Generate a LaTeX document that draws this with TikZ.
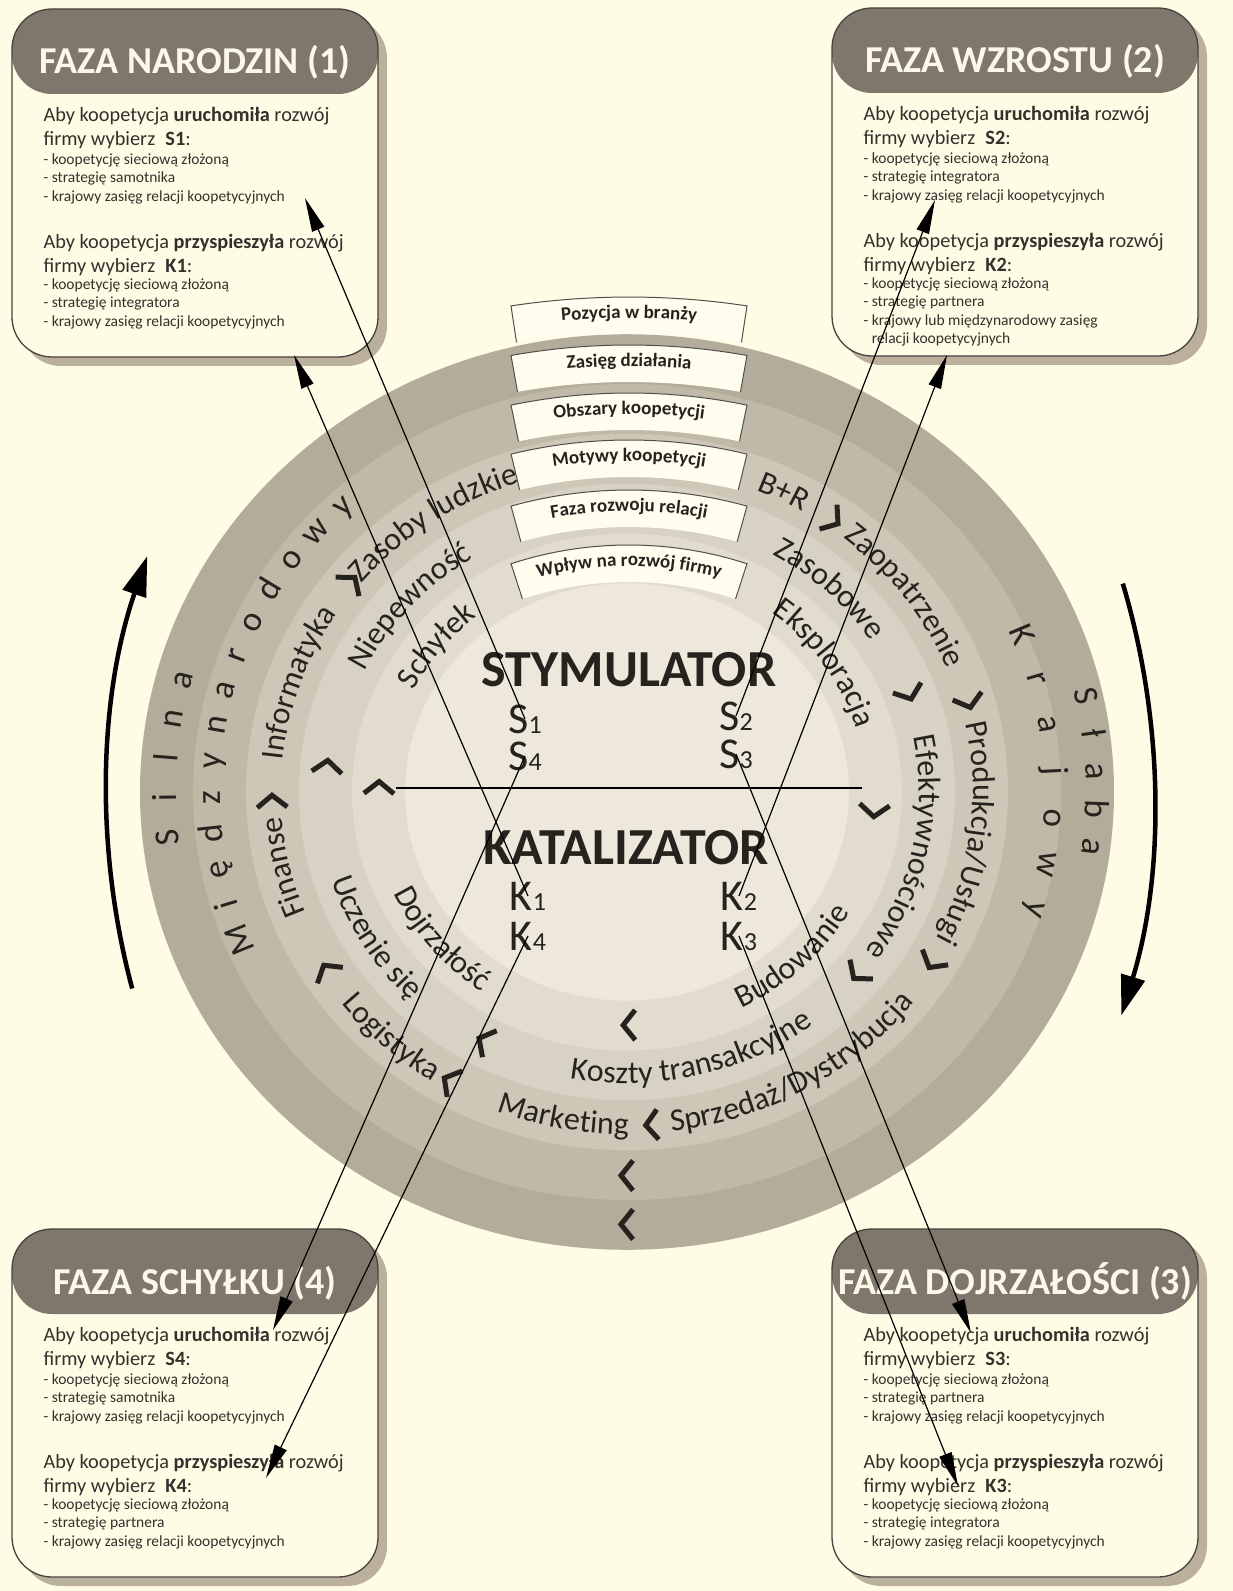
\documentclass[tikz,border=0pt]{standalone}
\usepackage{fontspec}
\setmainfont{Carlito}
\usepackage{xcolor}
\usetikzlibrary{calc}
\usetikzlibrary{arrows.meta}
\usetikzlibrary{positioning}
\usetikzlibrary{shadows}
\usetikzlibrary{decorations.text}

\definecolor{paper}{RGB}{255,252,229}
\definecolor{tabfill}{RGB}{255,253,238}
\definecolor{ringA}{RGB}{180,172,154}
\definecolor{ringB}{RGB}{193,185,168}
\definecolor{ringC}{RGB}{206,199,184}
\definecolor{ringD}{RGB}{216,210,196}
\definecolor{ringE}{RGB}{226,220,207}
\definecolor{ringF}{RGB}{237,232,219}
\definecolor{headbar}{RGB}{127,119,107}
\definecolor{boxshade}{RGB}{186,176,156}
\definecolor{titletext}{RGB}{252,248,232}
\definecolor{ink}{RGB}{38,34,30}
\definecolor{boxink}{RGB}{52,48,44}

\newcommand{\ringfont}{\fontsize{32}{32}\selectfont}
\newcommand{\tabfont}{\fontsize{19}{19}\selectfont\bfseries}
\newcommand{\skmark}[2]{{\fontsize{44}{44}\selectfont #1}{\fontsize{26}{26}\selectfont #2}}

\tikzset{
  phasebox/.style={draw=ink!85, line width=1.3pt, fill=paper, rounded corners=40pt,
    minimum width=366pt, minimum height=348pt, inner sep=0pt,
    drop shadow={shadow xshift=9pt, shadow yshift=-9pt, fill=boxshade, opacity=1},
    path picture={\fill[headbar] (path picture bounding box.north west) rectangle ([yshift=-85pt]path picture bounding box.north east);}},
  phasetitle/.style={anchor=base, text=titletext, font=\fontsize{38}{38}\selectfont\bfseries},
  leadtext/.style={anchor=north west, inner sep=0pt, align=left, text=boxink, font=\fontsize{20.3}{24}\selectfont},
  itemtext/.style={anchor=north west, inner sep=0pt, align=left, text=boxink, font=\fontsize{15.5}{18.5}\selectfont},
  tabline/.style={draw=ink!80, line width=1pt},
  chev/.style={draw=ink, line width=5pt, miter limit=20},
  link/.style={draw=black, line width=1.2pt, -{Triangle[length=34pt,width=13pt]}},
  sidearrow/.style={draw=black, line width=4.5pt, -{Triangle[length=40pt,width=24pt]}},
  spaced/.style={anchor=base, inner sep=0pt, text=ink, font=\fontsize{35}{35}\selectfont},
  biglabel/.style={text=ink, font=\fontsize{52}{52}\selectfont\bfseries},
  sklabel/.style={text=ink, inner sep=0pt}
}

\begin{document}
\begin{tikzpicture}[x=1pt,y=1pt]
		\newcommand{\cwlabel}[3]{%
			\pgfmathsetmacro{\lblRx}{#1-9}\pgfmathsetmacro{\lblRy}{0.94*(#1-9)}%
			\pgfmathsetmacro{\lblA}{#2+60}\pgfmathsetmacro{\lblB}{#2-60}%
			\path[decorate, decoration={text along path, text align=center, text color=ink, text={|\ringfont|#3}}]
				(\lblA:\lblRx pt and \lblRy pt) arc[start angle=\lblA, end angle=\lblB, x radius=\lblRx, y radius=\lblRy];}
		\newcommand{\ccwlabel}[3]{%
			\pgfmathsetmacro{\lblRx}{#1+9}\pgfmathsetmacro{\lblRy}{0.94*(#1+9)}%
			\pgfmathsetmacro{\lblA}{#2-60}\pgfmathsetmacro{\lblB}{#2+60}%
			\path[decorate, decoration={text along path, text align=center, text color=ink, text={|\ringfont|#3}}]
				(\lblA:\lblRx pt and \lblRy pt) arc[start angle=\lblA, end angle=\lblB, x radius=\lblRx, y radius=\lblRy];}
		\newcommand{\spacedword}[5]{%
			\pgfmathsetmacro{\spx}{#1-9}\pgfmathsetmacro{\spy}{0.94*(#1-9)}%
			\foreach \ch [count=\i from 0] in {#4} {
				\pgfmathsetmacro{\ang}{#2+#3*\i}
				\node[spaced, rotate=\ang-90, name=#5-\i] at (\ang:\spx pt and \spy pt) {\ch};
			}}
		\newcommand{\ringmark}[2]{%
			\pgfmathsetmacro{\mkx}{#2}\pgfmathsetmacro{\mky}{0.94*#2}%
			\draw[chev, shift={(#1:\mkx pt and \mky pt)}, rotate=#1-90] (-6,15) -- (6,0) -- (-6,-15);}
		\newcommand{\tabband}[3]{%
			\pgfmathsetmacro{\tabTop}{#2+21}\pgfmathsetmacro{\tabBot}{#2-16}%
			\pgfmathsetmacro{\tabL}{90+asin(118/\tabTop)}\pgfmathsetmacro{\tabR}{90-asin(118/\tabTop)}%
			\begin{scope}[shift={(2,#1-6-#2)}]
				\fill[tabfill] (\tabL:\tabTop) arc[start angle=\tabL, end angle=\tabR, radius=\tabTop] -- (\tabR:\tabBot) arc[start angle=\tabR, end angle=\tabL, radius=\tabBot] -- cycle;
				\draw[tabline] (\tabL:\tabBot) -- (\tabL:\tabTop) arc[start angle=\tabL, end angle=\tabR, radius=\tabTop] -- (\tabR:\tabBot);
				\path[decorate, decoration={text along path, text align=center, text color=ink, text={|\tabfont|#3}}] (130:#2) arc[start angle=130, end angle=50, radius=#2];
			\end{scope}}

		\useasboundingbox (-627,-799) rectangle (606,792);
		\fill[paper] (-627,-799) rectangle (606,792);		% background

		% side arrows
		\draw[sidearrow] ([shift={(195:740)}]220,-5) arc[start angle=195, end angle=161, radius=740];
		\draw[sidearrow] ([shift={(16.6:747)}]-220,-5) arc[start angle=16.6, end angle=-17, radius=747];

		% rings
		\foreach \rx/\col in {487/ringA,434/ringB,381/ringC,328/ringD,275/ringE,222/ringF}
			\fill[\col] (0,0) ellipse [x radius=\rx, y radius=0.94*\rx];

		% spaced words in the two outer rings
		\spacedword{460}{186}{-5.25}{S,i,l,n,a}{silna}
		\spacedword{468}{12.5}{-4.9}{S,ł,a,b,a}{slaba}
		\spacedword{416}{202}{-5.3}{M,i,ę,d,z,y,n,a,r,o,d,o,w,y}{miedzy}
		\spacedword{427}{23}{-6.67}{K,r,a,j,o,w,y}{krajowy}

		% obszary koopetycji
		\cwlabel{355}{192.5}{Finanse}
		\cwlabel{355}{161.4}{Informatyka}
		\cwlabel{355}{125.2}{Zasoby ludzkie}
		\cwlabel{355}{62.7}{B+R}
		\cwlabel{355}{35.6}{Zaopatrzenie}
		\cwlabel{355}{-7}{Produkcja/Usługi}
		\ccwlabel{355}{-59.5}{Sprzedaż/Dystrybucja}
		\ccwlabel{355}{259.2}{Marketing}
		\ccwlabel{355}{226.7}{Logistyka}

		% motywy
		\cwlabel{301}{139.1}{Niepewność}
		\cwlabel{301}{45.5}{Zasobowe}
		\cwlabel{301}{-11.5}{Efektywnościowe}
		\ccwlabel{301}{283.6}{Koszty transakcyjne}
		\ccwlabel{301}{210.6}{Uczenie się}

		% fazy relacji
		\cwlabel{248}{142.2}{Schyłek}
		\cwlabel{248}{33.4}{Eksploracja}
		\ccwlabel{248}{314.5}{Budowanie}
		\ccwlabel{248}{219}{Dojrzałość}

		% chevrons
		\foreach \ang/\rad in {54.5/355,15.7/355,-30.7/355,-86/355,240/355,212.3/355,181.6/355,141/355,
			20.4/301,-40/301,241.7/301,174.8/301,-4.6/248,-89.5/248,178.9/248,-90/408,-90/460}
			{\ringmark{\ang}{\rad}}

		% tabs on top
		\tabband{480}{770}{Pozycja w branży}
		\tabband{432}{650}{Zasięg działania}
		\tabband{384}{560}{Obszary koopetycji}
		\tabband{337}{480}{Motywy koopetycji}
		\tabband{287}{420}{Faza rozwoju relacji}
		\tabband{232}{360}{Wpływ na rozwój firmy}

		% centre
		\node[biglabel] (stym) at (2,122) {STYMULATOR};
		\node[biglabel] (katal) at (-1,-56) {KATALIZATOR};
		\node[sklabel] (s1) at (-102,73) {\skmark{S}{1}};
		\node[sklabel] (s4) at (-102,36) {\skmark{S}{4}};
		\node[sklabel] (s2) at (109,76) {\skmark{S}{2}};
		\node[sklabel] (s3) at (109,38) {\skmark{S}{3}};
		\node[sklabel] (k1) at (-99,-104) {\skmark{K}{1}};
		\node[sklabel] (k4) at (-99,-144) {\skmark{K}{4}};
		\node[sklabel] (k2) at (112,-104) {\skmark{K}{2}};
		\node[sklabel] (k3) at (112,-144) {\skmark{K}{3}};
		\coordinate (divL) at (-231,4);
		\coordinate (divR) at (235,4);
		\draw[line width=1.3pt] (divL) -- (divR);

		% phase boxes
		\node[phasebox] (narodziny) at (-432,609) {};
		\node[phasetitle] (narodzinyT) at ([yshift=-65pt]narodziny.north) {FAZA NARODZIN (1)};
		\node[leadtext] (narodzinyS) at ([xshift=32pt,yshift=-99pt]narodziny.north west) {Aby koopetycja \textbf{uruchomiła} rozwój\\firmy wybierz\enspace\textbf{S1}:};
		\node[itemtext] (narodzinyS2) at ([xshift=32pt,yshift=-145pt]narodziny.north west) {- koopetycję sieciową złożoną\\- strategię samotnika\\- krajowy zasięg relacji koopetycyjnych};
		\node[leadtext] (narodzinyK) at ([xshift=32pt,yshift=-226pt]narodziny.north west) {Aby koopetycja \textbf{przyspieszyła} rozwój\\firmy wybierz\enspace\textbf{K1}:};
		\node[itemtext] (narodzinyK2) at ([xshift=32pt,yshift=-270pt]narodziny.north west) {- koopetycję sieciową złożoną\\- strategię integratora\\- krajowy zasięg relacji koopetycyjnych};

		\node[phasebox] (wzrost) at (388,610) {};
		\node[phasetitle] (wzrostT) at ([yshift=-65pt]wzrost.north) {FAZA WZROSTU (2)};
		\node[leadtext] (wzrostS) at ([xshift=32pt,yshift=-99pt]wzrost.north west) {Aby koopetycja \textbf{uruchomiła} rozwój\\firmy wybierz\enspace\textbf{S2}:};
		\node[itemtext] (wzrostS2) at ([xshift=32pt,yshift=-145pt]wzrost.north west) {- koopetycję sieciową złożoną\\- strategię integratora\\- krajowy zasięg relacji koopetycyjnych};
		\node[leadtext] (wzrostK) at ([xshift=32pt,yshift=-226pt]wzrost.north west) {Aby koopetycja \textbf{przyspieszyła} rozwój\\firmy wybierz\enspace\textbf{K2}:};
		\node[itemtext] (wzrostK2) at ([xshift=32pt,yshift=-270pt]wzrost.north west) {- koopetycję sieciową złożoną\\- strategię partnera\\- krajowy lub międzynarodowy zasięg\\\phantom{- }relacji koopetycyjnych};

		\node[phasebox] (schylek) at (-432,-611) {};
		\node[phasetitle] (schylekT) at ([yshift=-66pt]schylek.north) {FAZA SCHYŁKU (4)};
		\node[leadtext] (schylekS) at ([xshift=32pt,yshift=-99pt]schylek.north west) {Aby koopetycja \textbf{uruchomiła} rozwój\\firmy wybierz\enspace\textbf{S4}:};
		\node[itemtext] (schylekS2) at ([xshift=32pt,yshift=-145pt]schylek.north west) {- koopetycję sieciową złożoną\\- strategię samotnika\\- krajowy zasięg relacji koopetycyjnych};
		\node[leadtext] (schylekK) at ([xshift=32pt,yshift=-226pt]schylek.north west) {Aby koopetycja \textbf{przyspieszyła} rozwój\\firmy wybierz\enspace\textbf{K4}:};
		\node[itemtext] (schylekK2) at ([xshift=32pt,yshift=-270pt]schylek.north west) {- koopetycję sieciową złożoną\\- strategię partnera\\- krajowy zasięg relacji koopetycyjnych};

		\node[phasebox] (dojrz) at (388,-611) {};
		\node[phasetitle] (dojrzT) at ([yshift=-66pt]dojrz.north) {FAZA DOJRZAŁOŚCI (3)};
		\node[leadtext] (dojrzS) at ([xshift=32pt,yshift=-99pt]dojrz.north west) {Aby koopetycja \textbf{uruchomiła} rozwój\\firmy wybierz\enspace\textbf{S3}:};
		\node[itemtext] (dojrzS2) at ([xshift=32pt,yshift=-145pt]dojrz.north west) {- koopetycję sieciową złożoną\\- strategię partnera\\- krajowy zasięg relacji koopetycyjnych};
		\node[leadtext] (dojrzK) at ([xshift=32pt,yshift=-226pt]dojrz.north west) {Aby koopetycja \textbf{przyspieszyła} rozwój\\firmy wybierz\enspace\textbf{K3}:};
		\node[itemtext] (dojrzK2) at ([xshift=32pt,yshift=-270pt]dojrz.north west) {- koopetycję sieciową złożoną\\- strategię integratora\\- krajowy zasięg relacji koopetycyjnych};

		% arrows from the centre to the phases
		\coordinate (tipS1) at (-322,594);
		\coordinate (tipK1) at (-333,437);
		\coordinate (tipS2) at (308,592);
		\coordinate (tipK2) at (320,437);
		\coordinate (tipS3) at (344,-541);
		\coordinate (tipK3) at (331,-694);
		\coordinate (tipS4) at (-354,-538);
		\coordinate (tipK4) at (-361,-686);
		\draw[link] (s1.center) -- (tipS1);
		\draw[link] (k1.center) -- (tipK1);
		\draw[link] (s2.center) -- (tipS2);
		\draw[link] (k2.center) -- (tipK2);
		\draw[link] (s3.center) -- (tipS3);
		\draw[link] (k3.center) -- (tipK3);
		\draw[link] (s4.center) -- (tipS4);
		\draw[link] (k4.center) -- (tipK4);
\end{tikzpicture}
\end{document}
